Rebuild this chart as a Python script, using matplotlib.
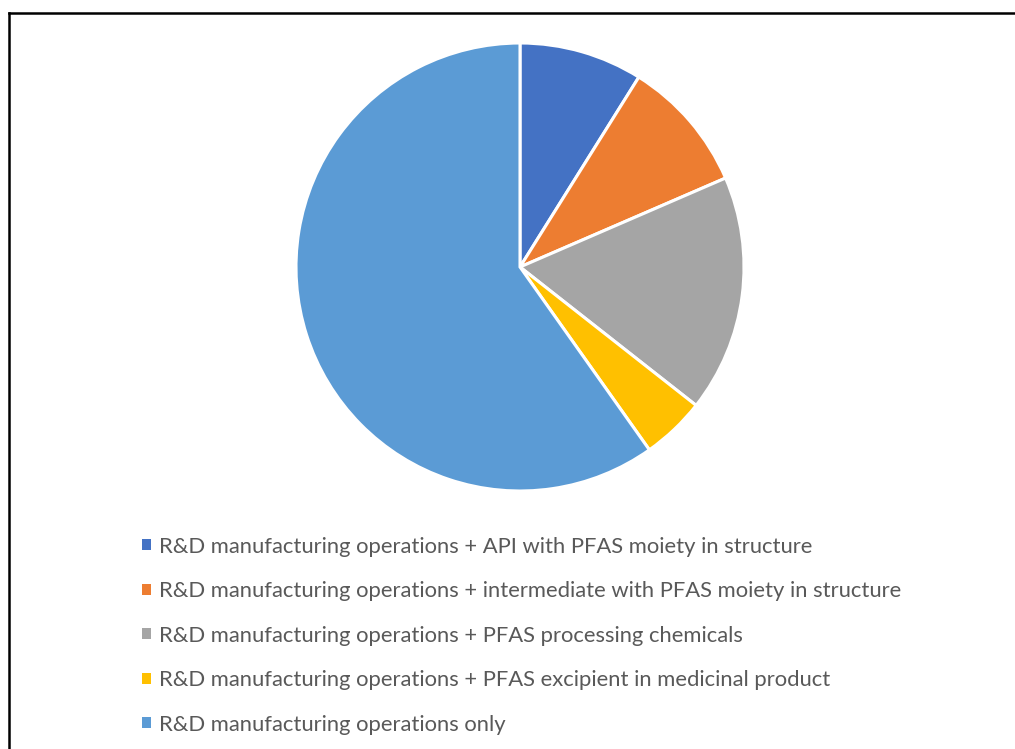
import matplotlib.pyplot as plt
from matplotlib.lines import Line2D
from matplotlib.patches import Patch

categories = [
    "R&D manufacturing operations + API with PFAS moiety in structure",
    "R&D manufacturing operations + intermediate with PFAS moiety in structure",
    "R&D manufacturing operations + PFAS processing chemicals",
    "R&D manufacturing operations + PFAS excipient in medicinal product",
    "R&D manufacturing operations only",
]
shares = [8.9, 9.6, 17.1, 4.6, 59.8]
colors = ["#4472C4", "#ED7D31", "#A5A5A5", "#FFC000", "#5B9BD5"]

W, H = 1015, 749
fig = plt.figure(figsize=(W / 100, H / 100), dpi=100)
fig.patch.set_facecolor("white")

# pie area: centre (520, 267) px, radius 224 px
cx, cy, r = 520, 267, 224
ax = fig.add_axes([(cx - r) / W, (H - cy - r) / H, 2 * r / W, 2 * r / H])
wedges, _ = ax.pie(shares, colors=colors, startangle=90, counterclock=False,
                   wedgeprops=dict(edgecolor="white", linewidth=2.2))
ax.set_xlim(-1, 1)
ax.set_ylim(-1, 1)
ax.set_aspect("equal")

handles = [Patch(facecolor=c, edgecolor="none") for c in colors]
fig.legend(handles, categories, loc="upper left",
           bbox_to_anchor=(133 / W, 1 - 528 / H),
           frameon=False, labelcolor="#595959",
           prop={"family": "Lato", "size": 15.8},
           handlelength=0.4, handleheight=0.4, handletextpad=0.4,
           labelspacing=1.115, borderaxespad=0)

# chart border (runs off the right and bottom edges)
fig.add_artist(Line2D([9 / W, 1.01], [1 - 13 / H, 1 - 13 / H], color="black",
                      linewidth=1.8, transform=fig.transFigure))
fig.add_artist(Line2D([9 / W, 9 / W], [1 - 13 / H, -0.01], color="black",
                      linewidth=1.8, transform=fig.transFigure))

fig.savefig("out.png", dpi=100)
